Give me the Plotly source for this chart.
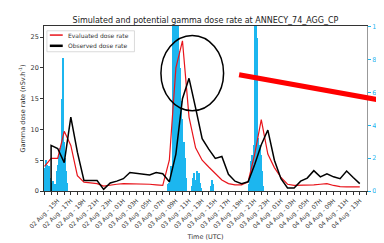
import plotly.graph_objects as go
from datetime import datetime, timedelta

# ---- data -------------------------------------------------------------
base = datetime(2021, 8, 2, 14)  # 02 Aug - 14H

# evaluated dose rate, hourly from 02 Aug 13H to 04 Aug 13H
evaluated = [4.0, 5.3, 5.3, 9.7, 7.4, 2.5, 1.45, 1.3, 1.2, 0.8, 1.0, 1.1, 1.2,
             1.2, 1.2, 1.2, 1.1, 1.0, 0.9, 5.0, 20.0, 24.4, 12.0, 7.0, 5.0,
             3.9, 2.8, 1.8, 1.2, 1.0, 1.0, 1.5, 6.0, 11.6, 6.0, 3.8, 2.2,
             1.1, 0.9, 0.9, 0.9, 1.0, 1.1, 1.2, 0.9, 0.7, 0.66, 0.66, 0.66]
evaluated_start_hour = -1

# observed dose rate, hourly from 02 Aug 14H to 04 Aug 13H (first sample at 0)
observed = [0.0, 7.4, 6.9, 4.6, 12.0, 6.3, 1.7, 1.7, 1.7, 0.26, 1.3, 1.6, 2.0,
            3.0, 2.9, 2.8, 2.6, 3.0, 2.8, 1.5, 6.0, 15.0, 18.3, 13.5, 8.5,
            6.8, 5.3, 5.6, 2.7, 1.6, 1.2, 1.5, 4.3, 7.5, 9.9, 5.0, 2.0, 0.5,
            0.5, 1.6, 2.1, 3.3, 2.3, 2.8, 2.3, 2.0, 3.25, 2.2, 1.2]
observed_hours = [0] + list(range(0, 48))

# precipitation (right axis), 10-minute bars
rain_times = [
    "2021-08-02 13:00", "2021-08-02 13:10", "2021-08-02 13:20", "2021-08-02 13:30",
    "2021-08-02 13:40", "2021-08-02 13:50", "2021-08-02 14:00", "2021-08-02 14:10",
    "2021-08-02 14:20", "2021-08-02 14:30", "2021-08-02 14:40", "2021-08-02 14:50",
    "2021-08-02 15:00", "2021-08-02 15:10", "2021-08-02 15:20", "2021-08-02 15:30",
    "2021-08-02 15:40", "2021-08-02 15:50", "2021-08-02 16:00", "2021-08-02 16:10",
    "2021-08-02 16:20", "2021-08-02 16:30",
    "2021-08-03 07:50", "2021-08-03 08:00", "2021-08-03 08:10", "2021-08-03 08:20",
    "2021-08-03 08:30", "2021-08-03 08:40", "2021-08-03 08:50", "2021-08-03 09:00",
    "2021-08-03 09:10", "2021-08-03 09:20", "2021-08-03 09:30", "2021-08-03 09:40",
    "2021-08-03 09:50", "2021-08-03 10:00", "2021-08-03 10:10", "2021-08-03 10:20",
    "2021-08-03 10:30",
    "2021-08-03 11:30", "2021-08-03 11:40", "2021-08-03 11:50", "2021-08-03 12:00",
    "2021-08-03 12:10", "2021-08-03 12:20", "2021-08-03 12:30", "2021-08-03 12:40",
    "2021-08-03 12:50", "2021-08-03 14:20", "2021-08-03 14:30", "2021-08-03 14:40",
    "2021-08-03 20:10", "2021-08-03 20:20", "2021-08-03 20:30", "2021-08-03 20:40",
    "2021-08-03 20:50", "2021-08-03 21:00", "2021-08-03 21:10", "2021-08-03 21:20",
    "2021-08-03 21:30", "2021-08-03 21:40", "2021-08-03 21:50", "2021-08-03 22:00",
    "2021-08-03 22:10", "2021-08-03 22:20",
]
rain_values = [
    1.4, 1.9, 1.6, 1.2, 1.5, 0.8, 0.5, 0.3, 0.6, 0.4, 0.4, 1.2,
    1.6, 2.2, 2.6, 2.0, 5.6, 8.1, 3.0, 2.0, 1.2, 0.5,
    0.4, 0.5, 0.6, 1.5, 10.5, 10.5, 10.5, 10.5, 10.5, 10.5, 8.5, 7.5,
    5.5, 4.4, 3.0, 2.0, 0.8,
    0.3, 0.8, 1.1, 0.7, 1.2, 0.9, 1.1, 0.5, 0.2, 0.3, 0.7, 0.4,
    0.4, 1.0, 1.8, 2.2, 2.8, 10.5, 10.5, 9.3, 3.2, 2.5, 2.8, 2.2, 1.2, 0.3,
]

tick_hours = list(range(1, 48, 2))  # 15H .. 13H, every 2 hours
tick_labels = [(base + timedelta(hours=h)).strftime("%d Aug - %HH") for h in tick_hours]

legend_names = ["Evaluated dose rate", "Observed dose rate"]

# ---- figure -----------------------------------------------------------
eval_x = [base + timedelta(hours=evaluated_start_hour + i) for i in range(len(evaluated))]
obs_x = [base + timedelta(hours=h) for h in observed_hours]
tick_x = [base + timedelta(hours=h) for h in tick_hours]

BLUE = "#1cb6ef"
RED = "#e8141b"
FONT = "DejaVu Sans"

fig = go.Figure()
fig.add_trace(go.Bar(x=rain_times, y=rain_values, width=600000, marker_color=BLUE,
                     marker_line_width=0, showlegend=False, yaxis="y"))
fig.add_trace(go.Scatter(x=eval_x, y=evaluated, mode="lines", name=legend_names[0],
                         line=dict(color=RED, width=1.2), yaxis="y2", showlegend=False))
fig.add_trace(go.Scatter(x=obs_x, y=observed, mode="lines", name=legend_names[1],
                         line=dict(color="black", width=1.5), yaxis="y2", showlegend=False))

# compact legend box (matplotlib style)
leg_shapes = [
    dict(type="rect", xref="paper", yref="paper", x0=0.009, x1=0.280, y0=0.844, y1=0.971,
         line=dict(color="#d0d0d0", width=0.8), fillcolor="rgba(255,255,255,0.85)"),
    dict(type="line", xref="paper", yref="paper", x0=0.018, x1=0.058, y0=0.945, y1=0.945,
         line=dict(color=RED, width=1.5)),
    dict(type="line", xref="paper", yref="paper", x0=0.018, x1=0.058, y0=0.880, y1=0.880,
         line=dict(color="black", width=2.5)),
]
leg_annots = [
    dict(text=legend_names[0], xref="paper", yref="paper", x=0.068, y=0.945,
         xanchor="left", yanchor="middle", showarrow=False, font=dict(size=6, color="#333")),
    dict(text=legend_names[1], xref="paper", yref="paper", x=0.068, y=0.880,
         xanchor="left", yanchor="middle", showarrow=False, font=dict(size=6, color="#333")),
]

fig.update_layout(
    width=384, height=243,
    margin=dict(l=36, r=15, t=18, b=52),
    paper_bgcolor="white", plot_bgcolor="white",
    font=dict(family=FONT, size=6.5, color="#333"),
    bargap=0,
    showlegend=False,
    title=dict(text="Simulated and potential gamma dose rate at ANNECY_74_AGG_CP",
               x=0.5, xref="paper", y=1 - 12 / 243, yanchor="middle",
               font=dict(size=8, color="#222")),
    xaxis=dict(type="date",
               range=[datetime(2021, 8, 2, 12, 55), datetime(2021, 8, 4, 14, 6)],
               tickmode="array", tickvals=tick_x, ticktext=tick_labels,
               tickangle=-45, tickfont=dict(size=6), ticks="outside", ticklen=3,
               tickcolor="#333", showline=True, linecolor="#333", linewidth=0.8,
               mirror=True, showgrid=False,
               minor=dict(dtick=3600000, tick0="2021-08-02 14:00", ticks="outside",
                          ticklen=3, tickcolor="#333", showgrid=False),
               title=dict(text="Time (UTC)", font=dict(size=6.5), standoff=4)),
    yaxis=dict(side="right", range=[0, 10.05], tickvals=[0, 2, 4, 6, 8, 10],
               tickfont=dict(color=BLUE, size=6.5), ticks="outside", ticklen=3,
               tickcolor=BLUE, showline=True, linecolor="#999", linewidth=0.8,
               showgrid=False, zeroline=False),
    yaxis2=dict(side="left", overlaying="y", range=[0, 26.8], tickvals=[0, 5, 10, 15, 20, 25],
                ticks="outside", ticklen=3, tickcolor="#333", showline=True,
                linecolor="#333", linewidth=0.8, showgrid=False, zeroline=False,
                tickfont=dict(size=6.5),
                title=dict(text="Gamma dose rate (nSv.h<sup>-1</sup>)", font=dict(size=6.5),
                           standoff=4)),
    shapes=leg_shapes + [
        dict(type="circle", xref="paper", yref="paper", x0=0.362, x1=0.556,
             y0=0.486, y1=0.942, line=dict(color="black", width=1.5)),
        dict(type="line", xref="paper", yref="paper", x0=0.604, y0=0.705,
             x1=1.045, y1=0.549, line=dict(color="#ff0000", width=5)),
    ],
    annotations=leg_annots,
)

fig.write_html("out.html")
